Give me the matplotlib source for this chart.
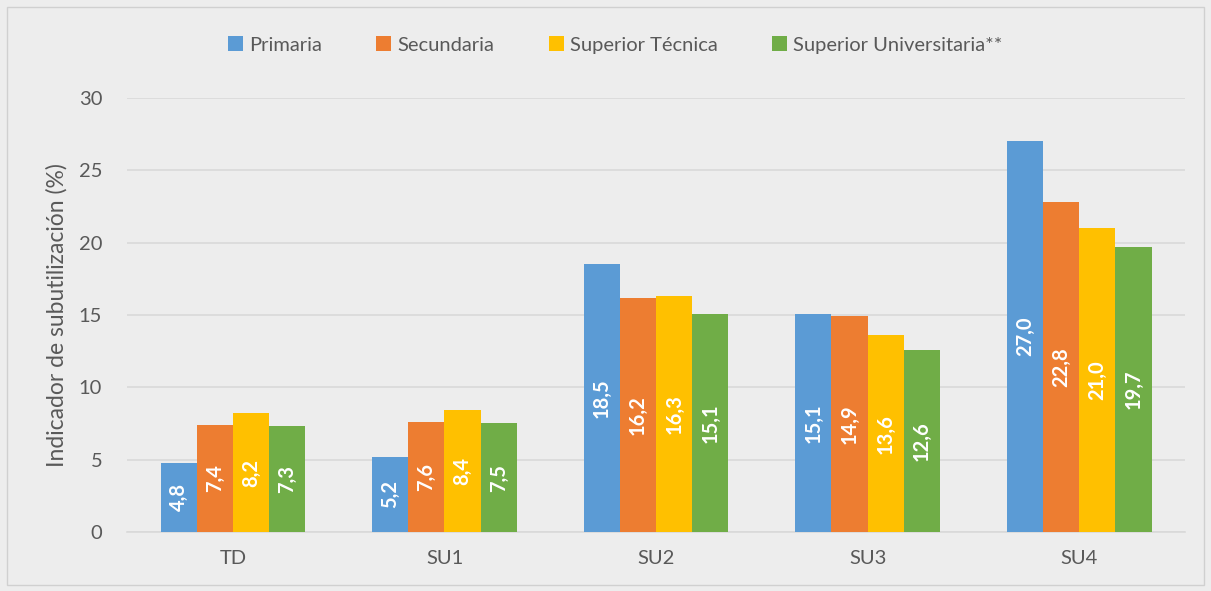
import numpy as np
import matplotlib.pyplot as plt
from matplotlib.patches import Rectangle

# data
categories = ["TD", "SU1", "SU2", "SU3", "SU4"]
series_names = ["Primaria", "Secundaria", "Superior Técnica", "Superior Universitaria**"]
primaria = [4.8, 5.2, 18.5, 15.1, 27.0]
secundaria = [7.4, 7.6, 16.2, 14.9, 22.8]
sup_tecnica = [8.2, 8.4, 16.3, 13.6, 21.0]
sup_univ = [7.3, 7.5, 15.1, 12.6, 19.7]
yticks = [0, 5, 10, 15, 20, 25, 30]

colors = ["#5B9BD5", "#ED7D31", "#FFC000", "#70AD47"]
txt = "#595959"
bg = "#EDEDED"

plt.rcParams['font.family'] = ['Lato', 'DejaVu Sans']

fig = plt.figure(figsize=(12.11, 5.91), dpi=100, facecolor=bg)
# thin border round the chart
fig.patches.append(Rectangle((0.006, 0.01), 0.988, 0.978, transform=fig.transFigure,
                             fill=False, edgecolor="#D0D0D0", linewidth=1))

ax = fig.add_axes([0.105, 0.0998, 0.8735, 0.7345])
ax.set_facecolor(bg)

x = np.arange(len(categories))
w = 0.171
all_series = [primaria, secundaria, sup_tecnica, sup_univ]
handles = []
for i, (vals, name, c) in enumerate(zip(all_series, series_names, colors)):
    xs = x + (i - 1.5) * w
    b = ax.bar(xs, vals, width=w, color=c, label=name, zorder=3)
    handles.append(b)
    for xi, v in zip(xs, vals):
        ax.text(xi, v / 2, f"{v:.1f}".replace(".", ","), rotation=90,
                ha="center", va="center", color="white", fontsize=14.5,
                fontweight="bold", zorder=4)

ax.set_xlim(-0.5, len(categories) - 0.5)
ax.set_ylim(0, 30)
ax.set_yticks(yticks)
ax.set_xticks(x)
ax.set_xticklabels(categories)
ax.yaxis.grid(True, color="#D9D9D9", linewidth=1.2, zorder=0)
ax.tick_params(axis="both", length=0, colors=txt, labelsize=14.5)
ax.tick_params(axis="x", pad=13)
ax.tick_params(axis="y", pad=18)
for s in ["top", "right", "left"]:
    ax.spines[s].set_visible(False)
ax.spines["bottom"].set_color("#D9D9D9")
ax.spines["bottom"].set_linewidth(1.2)

ax.set_ylabel("Indicador de subutilización (%)", color=txt, fontsize=16.5, labelpad=8)

fig.legend(handles=handles, labels=series_names, loc="center", bbox_to_anchor=(0.508, 0.924),
           ncol=4, frameon=False, fontsize=14.5, labelcolor=txt, handlelength=0.75,
           handleheight=0.75, handletextpad=0.3, columnspacing=2.7)

plt.savefig("out.png", dpi=100, facecolor=bg)
